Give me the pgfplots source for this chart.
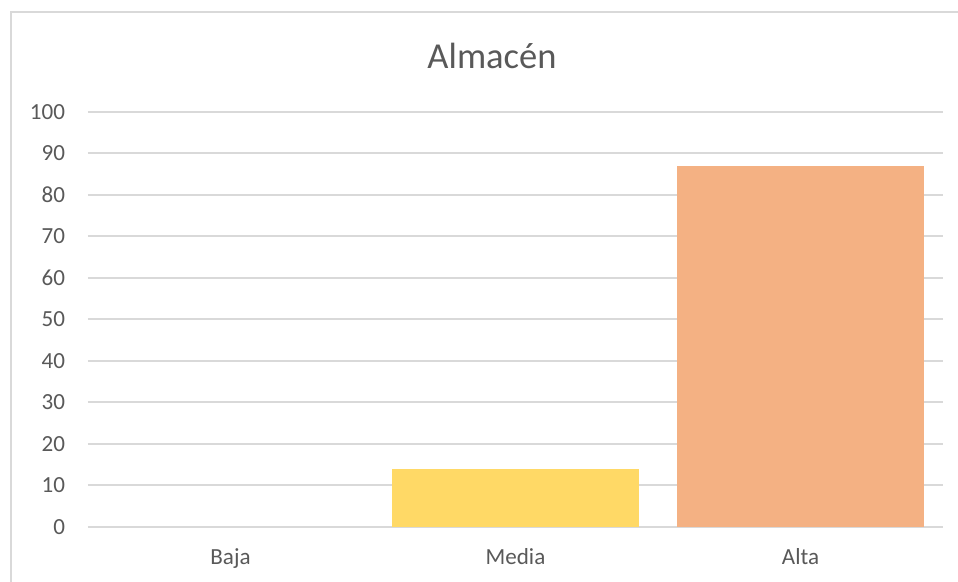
\documentclass[border=0pt]{standalone}
\usepackage{fontspec}
\setmainfont{Carlito}
\usepackage{pgfplots}
\pgfplotsset{compat=1.18}
\definecolor{gridgray}{HTML}{D9D9D9}
\definecolor{txtgray}{HTML}{595959}
\definecolor{gold}{HTML}{FFD966}
\definecolor{peach}{HTML}{F4B183}
\begin{document}
\begin{tikzpicture}
% page = 958x582 px at 0.75pt/px
\useasboundingbox (0,0) rectangle (718.5pt,436.5pt);
\begin{scope}
\clip (0,0) rectangle (718.5pt,436.5pt);
\draw[gridgray, line width=1.5pt] (8.25pt,427.5pt) rectangle (730pt,-10pt);
\end{scope}
\node[anchor=base, text=txtgray, font=\fontsize{27.4}{30}\selectfont] at (369pt,384.75pt) {Almacén};
\begin{axis}[
  at={(66pt,41.25pt)}, anchor=south west,
  scale only axis, width=641.25pt, height=311.25pt,
  xmin=-0.5, xmax=2.5, ymin=0, ymax=100,
  xtick={0,1,2}, xticklabels={Baja,Media,Alta},
  ytick={0,10,...,100},
  axis line style={draw=none}, major tick length=0pt,
  ymajorgrids, grid style={gridgray, line width=1.5pt},
  /pgf/number format/assume math mode=true,
  ticklabel style={text=txtgray, font=\fontsize{17.3}{20}\selectfont},
  yticklabel style={anchor=east, inner sep=0pt, xshift=-17pt},
  xticklabel style={anchor=base, inner sep=0pt, yshift=-28.5pt},
  ybar, bar width=185.25pt, bar shift=0pt,
  clip=false,
]
\addplot[draw=none, fill=none] coordinates {(0,0)};
\addplot[draw=none, fill=gold] coordinates {(1,14)};
\addplot[draw=none, fill=peach] coordinates {(2,87)};
\end{axis}
\end{tikzpicture}
\end{document}
